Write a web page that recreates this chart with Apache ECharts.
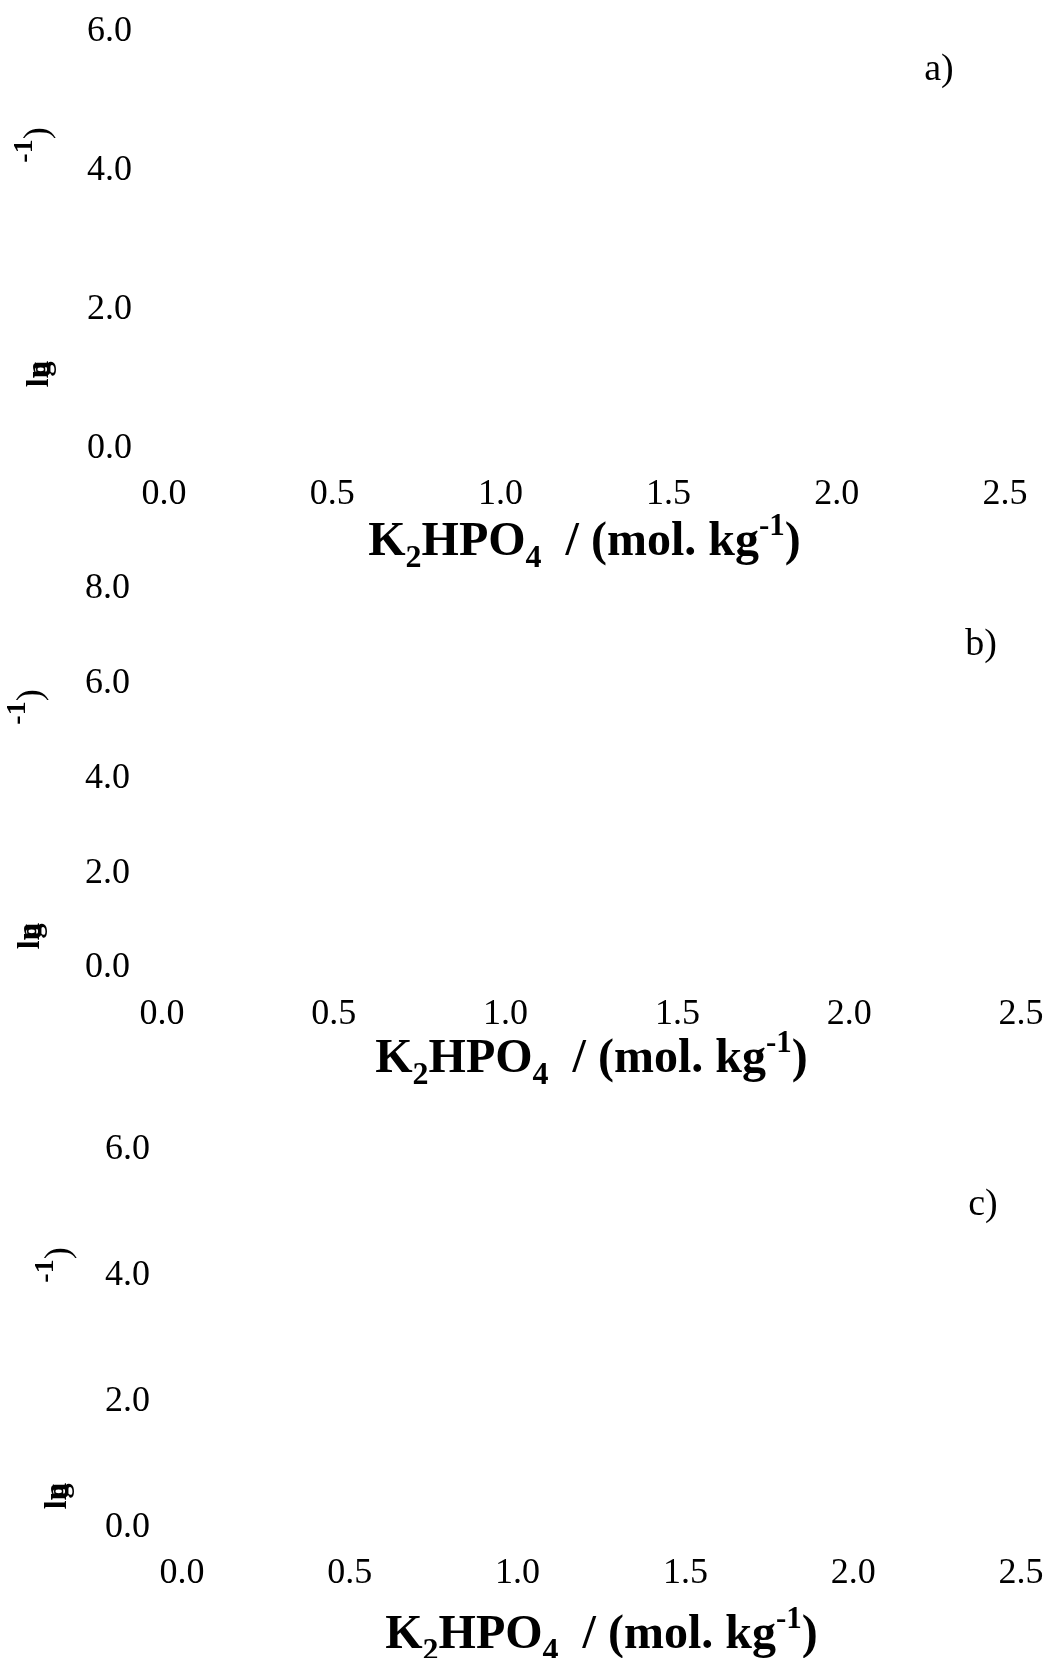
<!DOCTYPE html>
<html>
<head>
<meta charset="utf-8">
<script src="https://cdn.jsdelivr.net/npm/echarts@6/dist/echarts.min.js"></script>
<style>
  html, body { margin: 0; padding: 0; background: #fff; }
  #chart { width: 1048px; height: 1658px; }
</style>
</head>
<body>
<div id="chart"></div>
<script>
// axis ranges (the panels carry no data marks)
var xMin = 0, xMax = 2.5, xStep = 0.5;
var panelNames = ['a)', 'b)', 'c)'];
var yMaxes = [6, 8, 6];
var yStep = 2;

// grid boxes, pixels
var grids = [
  { left: 164, right: 43, top: 32, bottom: 1209, outerBoundsMode: 'none' },
  { left: 162, right: 27, top: 589, bottom: 690, outerBoundsMode: 'none' },
  { left: 182, right: 27, top: 1150, bottom: 130, outerBoundsMode: 'none' }
];
var nameGaps = [62, 60, 76];
var xLabelMargins = [28, 29, 28];
var tagPos = [[939, 70], [981, 645], [983, 1205]];
var lnPos = [[40, 374], [31, 936], [58, 1496]];
var expPos = [[39, 145], [32, 707], [60, 1265]];

var serif = 'Liberation Serif';
var tickFont = 36;

var titleRich = {
  b: { fontFamily: serif, fontWeight: 'bold', fontSize: 48, lineHeight: 64, verticalAlign: 'middle', color: '#000' },
  sub: { fontFamily: serif, fontWeight: 'bold', fontSize: 32, lineHeight: 34, verticalAlign: 'bottom', color: '#000' },
  sup: { fontFamily: serif, fontWeight: 'bold', fontSize: 31, lineHeight: 48, verticalAlign: 'top', color: '#000' }
};
var titleText = '{b|K}{sub|2}{b|HPO}{sub|4}{b|  / (mol. kg}{sup|-1}{b|)}';

var myChart = echarts.init(document.getElementById('chart'));

var option = {
  animation: false,
  backgroundColor: '#fff',
  grid: grids,
  xAxis: grids.map(function (g, i) {
    return {
      type: 'value', gridIndex: i, min: xMin, max: xMax, interval: xStep,
      axisLine: { show: false }, axisTick: { show: false }, splitLine: { show: false },
      axisLabel: {
        fontFamily: serif, fontSize: tickFont, color: '#000', margin: xLabelMargins[i],
        formatter: function (v) { return v.toFixed(1); }
      },
      name: titleText,
      nameLocation: 'middle',
      nameGap: nameGaps[i],
      nameMoveOverlap: false,
      nameTextStyle: { rich: titleRich }
    };
  }),
  yAxis: grids.map(function (g, i) {
    return {
      type: 'value', gridIndex: i, min: 0, max: yMaxes[i], interval: yStep,
      axisLine: { show: false }, axisTick: { show: false }, splitLine: { show: false },
      axisLabel: {
        fontFamily: serif, fontSize: tickFont, color: '#000', margin: 32,
        formatter: function (v) { return v.toFixed(1); }
      }
    };
  }),
  series: grids.map(function (g, i) {
    return { type: 'line', xAxisIndex: i, yAxisIndex: i, data: [] };
  }),
  graphic: []
};

panelNames.forEach(function (t, i) {
  option.graphic.push({
    type: 'text', x: tagPos[i][0], y: tagPos[i][1],
    style: { text: t, font: '38px "' + serif + '"', fill: '#000', align: 'center', verticalAlign: 'middle' }
  });
  // rotated y-axis name, broken up and overprinted as in the picture
  option.graphic.push({
    type: 'text', x: lnPos[i][0], y: lnPos[i][1], rotation: Math.PI / 2,
    style: { text: 'ln', font: 'bold 32px "' + serif + '"', fill: '#000', align: 'center', verticalAlign: 'middle' }
  });
  option.graphic.push({
    type: 'text', x: lnPos[i][0] + 2, y: lnPos[i][1] - 5, rotation: Math.PI / 2,
    style: { text: 'g', font: 'bold 30px "' + serif + '"', fill: '#000', align: 'center', verticalAlign: 'middle' }
  });
  option.graphic.push({
    type: 'text', x: expPos[i][0], y: expPos[i][1], rotation: Math.PI / 2,
    style: {
      text: '{s|-1}{p|)}', align: 'center', verticalAlign: 'middle',
      rich: {
        s: { fontFamily: serif, fontWeight: 'bold', fontSize: 28, fill: '#000', lineHeight: 30, verticalAlign: 'top' },
        p: { fontFamily: serif, fontSize: 36, fill: '#000', lineHeight: 56 }
      }
    }
  });
});

myChart.setOption(option);
window.addEventListener('resize', function () {
  myChart.resize();
});
</script>
</body>
</html>
